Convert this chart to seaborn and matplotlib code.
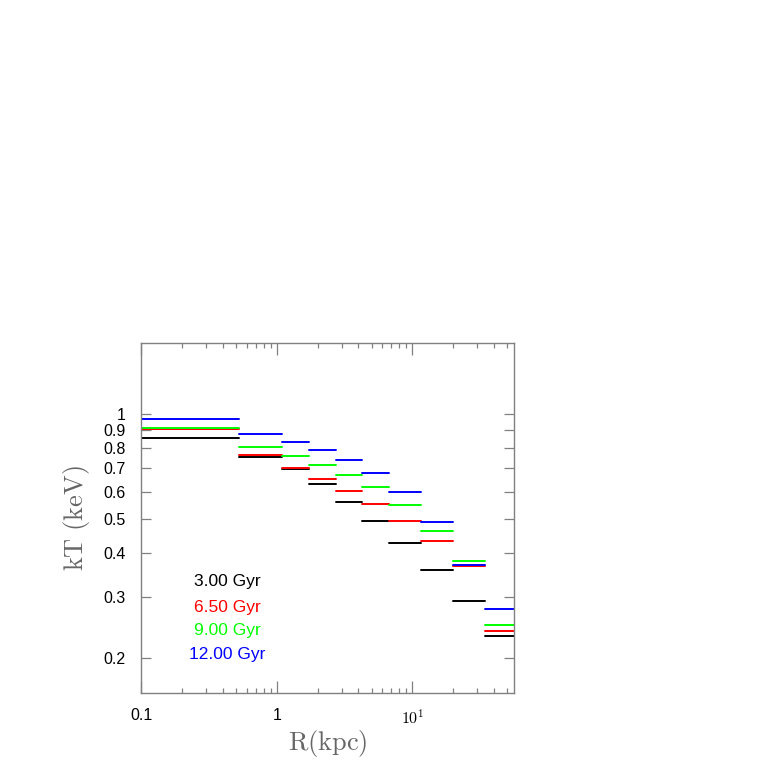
import numpy as np
import pandas as pd
import matplotlib
matplotlib.use('Agg')
import matplotlib.pyplot as plt
import seaborn as sns
from matplotlib.ticker import FixedLocator, FixedFormatter, LogLocator, NullFormatter, NullLocator

# radial bin edges (kpc) and temperature per bin (keV)
r_edges = [0.1, 0.53, 1.09, 1.72, 2.71, 4.25, 6.68, 11.5, 19.9, 34.3, 56.0]
ages = ['3.00 Gyr', '6.50 Gyr', '9.00 Gyr', '12.00 Gyr']
kT_3gyr = [0.854, 0.755, 0.697, 0.630, 0.561, 0.494, 0.428, 0.357, 0.291, 0.231]
kT_65gyr = [0.908, 0.767, 0.703, 0.651, 0.602, 0.552, 0.494, 0.434, 0.367, 0.239]
kT_9gyr = [0.916, 0.807, 0.758, 0.718, 0.672, 0.618, 0.549, 0.464, 0.379, 0.249]
kT_12gyr = [0.970, 0.876, 0.831, 0.791, 0.740, 0.679, 0.598, 0.490, 0.370, 0.277]
colors = ['black', 'red', '#00ff00', 'blue']

y_ticks = [0.2, 0.3, 0.4, 0.5, 0.6, 0.7, 0.8, 0.9, 1.0]
y_ticklabels = ['0.2', '0.3', '0.4', '0.5', '0.6', '0.7', '0.8', '0.9', '1']
x_ticks = [0.1, 1, 10]
x_ticklabels = ['0.1', '1', r'$10^{1}$']

rows = []
for age, prof in zip(ages, [kT_3gyr, kT_65gyr, kT_9gyr, kT_12gyr]):
    for i, t in enumerate(prof):
        rows.append(dict(age=age, seg=i, r=r_edges[i], kT=t))
        rows.append(dict(age=age, seg=i, r=r_edges[i + 1], kT=t))
df = pd.DataFrame(rows)

sns.set_style('ticks')
plt.rcParams['font.family'] = ['Liberation Sans', 'DejaVu Sans']
plt.rcParams['mathtext.fontset'] = 'cm'

fig = plt.figure(figsize=(7.63, 7.63), dpi=100)
ax = fig.add_axes([0.1848, 0.0917, 0.4889, 0.4587])

sns.lineplot(data=df, x='r', y='kT', hue='age', units='seg', estimator=None,
             hue_order=ages, palette=colors, lw=1.4, legend=False, sort=False, ax=ax)

ax.set_xscale('log')
ax.set_yscale('log')
ax.set_xlim(0.1, 56)
ax.set_ylim(0.159, 1.6)

ax.yaxis.set_major_locator(FixedLocator(y_ticks))
ax.yaxis.set_major_formatter(FixedFormatter(y_ticklabels))
ax.yaxis.set_minor_locator(NullLocator())
ax.xaxis.set_major_locator(FixedLocator(x_ticks))
ax.xaxis.set_major_formatter(FixedFormatter(x_ticklabels))
ax.xaxis.set_minor_locator(LogLocator(base=10, subs=np.arange(2, 10)))
ax.xaxis.set_minor_formatter(NullFormatter())

grey = '#808080'
for sp in ax.spines.values():
    sp.set_visible(True)
    sp.set_color(grey)
    sp.set_linewidth(1.0)
ax.tick_params(which='both', direction='in', top=True, right=True, color=grey,
               width=0.9, labelsize=11.5, pad=11, labelcolor='black')
ax.tick_params(axis='y', which='major', length=7.2)
ax.tick_params(axis='x', which='major', length=8.6)
ax.tick_params(axis='x', which='minor', length=3.6)

ax.set_xlabel(r'$\mathrm{R(kpc)}$', fontsize=19, color='#666666')
ax.set_ylabel(r'$\mathrm{kT\ (keV)}$', fontsize=19, color='#666666')
ax.xaxis.set_label_coords(0.5, -0.143)
ax.xaxis.label.set_va('center')
ax.yaxis.set_label_coords(-0.172, 0.5)
ax.yaxis.label.set_va('center')

label_y = [0.318, 0.245, 0.178, 0.109]
for age, c, yy in zip(ages, colors, label_y):
    ax.text(0.2306, yy, age, color=c, fontsize=12.5, ha='center', va='center',
            transform=ax.transAxes)

fig.savefig('out.png', dpi=100)
